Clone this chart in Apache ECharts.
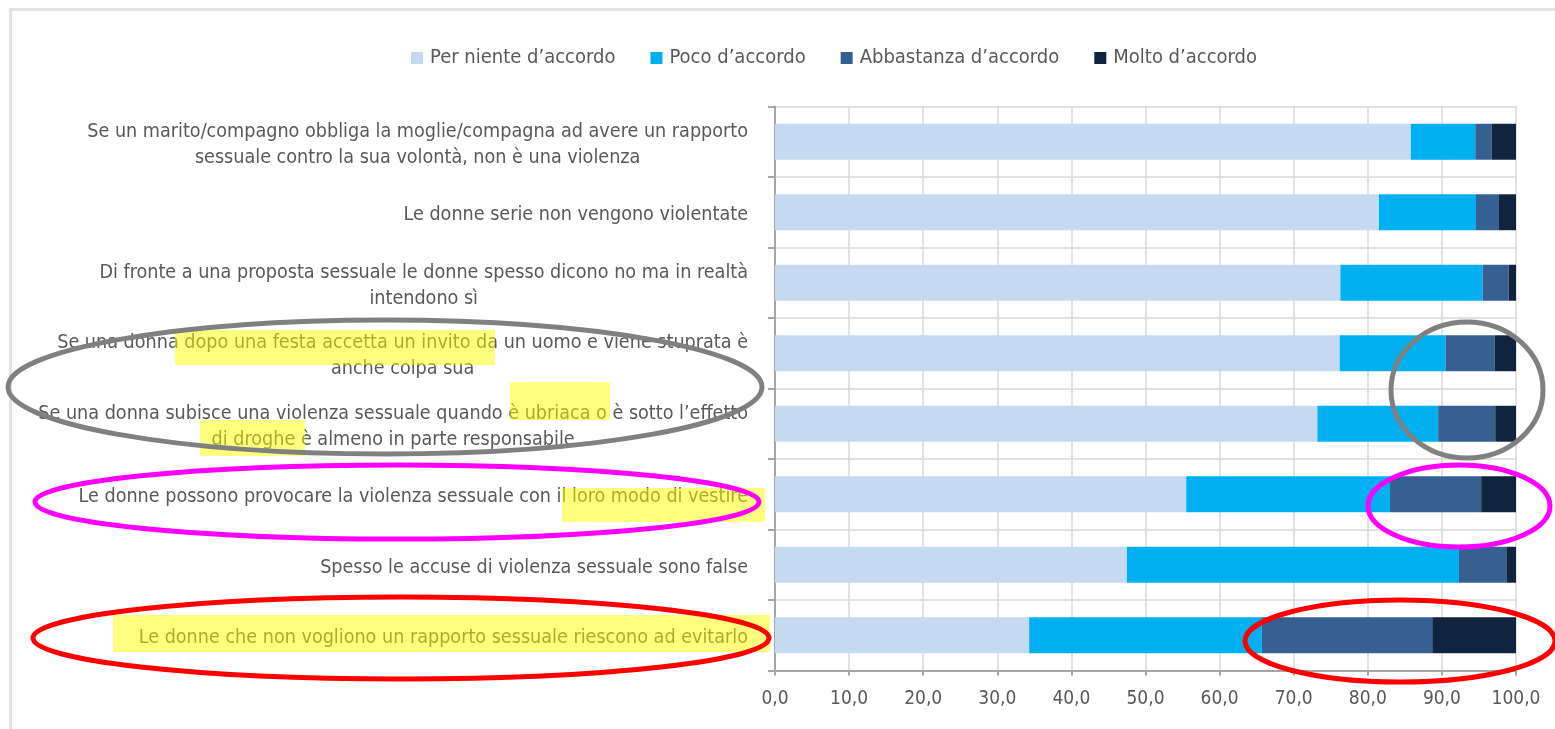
<!DOCTYPE html>
<html>
<head>
<meta charset="utf-8">
<script src="https://cdn.jsdelivr.net/npm/echarts@6/dist/echarts.min.js"></script>
<style>
    html, body { margin: 0; padding: 0; background: #fff; }
    #chart { width: 1555px; height: 729px; }
</style>
</head>
<body>
<div id="chart"></div>
<script>
const categories = [
    'Se un marito/compagno obbliga la moglie/compagna ad avere un rapporto\nsessuale contro la sua volontà, non è una violenza',
    'Le donne serie non vengono violentate',
    'Di fronte a una proposta sessuale le donne spesso dicono no ma in realtà\nintendono sì',
    'Se una donna dopo una festa accetta un invito da un uomo e viene stuprata è\nanche colpa sua',
    'Se una donna subisce una violenza sessuale quando è ubriaca o è sotto l\u2019effetto\ndi droghe è almeno in parte responsabile',
    'Le donne possono provocare la violenza sessuale con il loro modo di vestire',
    'Spesso le accuse di violenza sessuale sono false',
    'Le donne che non vogliono un rapporto sessuale riescono ad evitarlo'
];

const seriesNames = ['Per niente d\u2019accordo', 'Poco d\u2019accordo', 'Abbastanza d\u2019accordo', 'Molto d\u2019accordo'];
const perNiente = [85.8, 81.5, 76.3, 76.2, 73.2, 55.5, 47.5, 34.3];
const poco = [8.7, 13.1, 19.2, 14.3, 16.3, 27.5, 44.8, 31.4];
const abbastanza = [2.2, 3.1, 3.5, 6.6, 7.7, 12.3, 6.4, 23.0];
const molto = [3.3, 2.3, 1.0, 2.9, 2.8, 4.7, 1.3, 11.3];

const colors = ['#c5d9f1', '#00b0f0', '#376092', '#10243f'];
const font = '"Liberation Sans Narrow", "Arial Narrow", "DejaVu Sans Condensed", sans-serif';
const textColor = '#595959';

const chart = echarts.init(document.getElementById('chart'), null, { renderer: 'canvas' });

const makeSeries = (name, data, index) => ({
    name,
    type: 'bar',
    stack: 'total',
    data,
    barCategoryGap: '49%',
    itemStyle: { color: colors[index] },
    emphasis: { disabled: true },
});

// annotation overlays (hand-drawn circles and marker highlights in the source)
const ellipse = (cx, cy, rx, ry, color, width) => ({
    type: 'ellipse',
    z: 100,
    silent: true,
    shape: { cx, cy, rx, ry },
    style: { fill: 'none', stroke: color, lineWidth: width },
});

const highlight = (x, y, width, height) => ({
    type: 'rect',
    z: 90,
    silent: true,
    shape: { x, y, width, height },
    style: { fill: 'rgba(255, 255, 0, 0.5)' },
});

chart.setOption({
    animation: false,
    textStyle: { fontFamily: font },
    legend: {
        left: 406,
        top: 43,
        itemWidth: 12,
        itemHeight: 12,
        itemGap: 35,
        icon: 'rect',
        textStyle: { color: textColor, fontSize: 20, fontFamily: font, padding: [0, 0, 0, 2] },
        data: seriesNames,
    },
    grid: {
        left: 775,
        right: 39,
        top: 106.5,
        bottom: 58.5,
        containLabel: false,
        outerBoundsMode: 'none',
    },
    xAxis: {
        type: 'value',
        min: 0,
        max: 100,
        interval: 10,
        axisLine: { show: true, lineStyle: { color: '#a6a6a6', width: 2 } },
        axisTick: { show: true, length: 5, lineStyle: { color: '#a6a6a6', width: 2 } },
        axisLabel: {
            color: textColor,
            fontSize: 19,
            margin: 19,
            fontFamily: font,
            formatter: (value) => value.toFixed(1).replace('.', ','),
        },
        splitLine: { lineStyle: { color: '#d9d9d9', width: 1.5 } },
    },
    yAxis: {
        type: 'category',
        inverse: true,
        data: categories,
        axisLine: { show: true, lineStyle: { color: '#a6a6a6', width: 2 } },
        axisTick: { show: true, length: 7, lineStyle: { color: '#a6a6a6', width: 2 } },
        splitLine: { show: true, lineStyle: { color: '#d9d9d9', width: 1.5 } },
        axisLabel: {
            margin: 27,
            padding: [6, 0, 0, 0],
            formatter: (value) => value.split('\n').map((line) => '{c|' + line + '}').join('\n'),
            rich: {
                c: {
                    align: 'center',
                    color: textColor,
                    fontSize: 19.6,
                    lineHeight: 26,
                    fontFamily: font,
                },
            },
        },
    },
    graphic: [
        {
            type: 'polyline',
            z: 50,
            silent: true,
            shape: { points: [[10.5, 729], [10.5, 9.5], [1555, 9.5]] },
            style: { fill: 'none', stroke: '#e3e3e3', lineWidth: 3 },
        },
        highlight(175, 330, 320, 35),
        highlight(510, 382, 100, 38),
        highlight(200, 420, 105, 36),
        highlight(562, 488, 203, 34),
        highlight(113, 615, 657, 37),
        ellipse(385, 387, 377, 67, '#808080', 5),
        ellipse(1467, 390, 76, 68, '#808080', 5),
        ellipse(397, 502, 362, 37, '#ff00ff', 5),
        ellipse(1459, 506, 91, 41, '#ff00ff', 5),
        ellipse(401, 638, 368, 41, '#ff0000', 5),
        ellipse(1400, 641, 155, 41, '#ff0000', 5),
    ],
    series: [
        makeSeries(seriesNames[0], perNiente, 0),
        makeSeries(seriesNames[1], poco, 1),
        makeSeries(seriesNames[2], abbastanza, 2),
        makeSeries(seriesNames[3], molto, 3),
    ],
});
</script>
</body>
</html>
